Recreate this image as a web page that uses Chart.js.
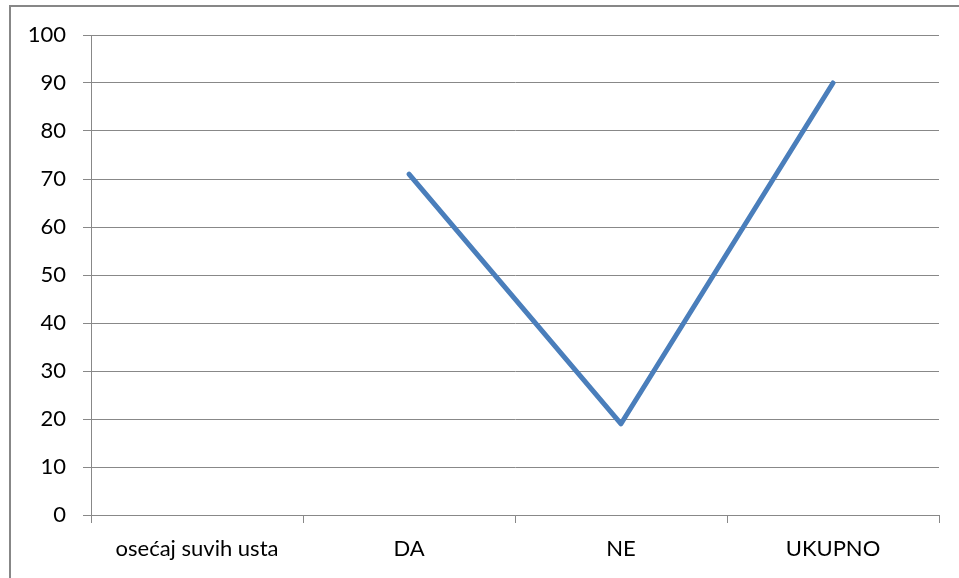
<!DOCTYPE html>
<html><head><meta charset="utf-8">
<script src="https://cdn.jsdelivr.net/npm/chart.js@4/dist/chart.umd.min.js"></script>
<style>
html,body{margin:0;padding:0;background:#fff;}
#wrap{position:relative;width:959px;height:578px;}
#frame{position:absolute;left:9px;top:5px;width:1000px;height:1000px;border:2px solid #878787;box-sizing:border-box;pointer-events:none;}
canvas{position:absolute;left:0;top:0;}
</style></head>
<body>
<div id="wrap"><canvas id="c" width="959" height="578"></canvas><div id="frame"></div></div>
<script>
const categories = ['osećaj suvih usta', 'DA', 'NE', 'UKUPNO'];
const values = [null, 71, 19, 90];
const yTicks = [0, 10, 20, 30, 40, 50, 60, 70, 80, 90, 100];

const gridColor = '#888888';
const font = {family: 'Lato, "Open Sans", sans-serif', size: 22};

new Chart(document.getElementById('c'), {
  type: 'line',
  data: {
    labels: categories,
    datasets: [{
      data: values,
      borderColor: '#4a7ebb',
      borderWidth: 5,
      borderCapStyle: 'round',
      borderJoinStyle: 'round',
      pointRadius: 0,
      tension: 0,
      spanGaps: false
    }]
  },
  options: {
    responsive: false,
    animation: false,
    devicePixelRatio: 1,
    layout: {padding: {left: 0, right: 20, top: 35, bottom: 0}},
    plugins: {legend: {display: false}, tooltip: {enabled: false}},
    scales: {
      x: {
        type: 'category',
        offset: true,
        grid: {display: true, drawOnChartArea: false, drawTicks: true, tickLength: 8, color: gridColor, lineWidth: 1, offset: true},
        border: {display: true, color: gridColor, width: 1},
        ticks: {color: '#000', font: font, padding: 13, maxRotation: 0, autoSkip: false},
        afterFit: s => { s.height = 63; }
      },
      y: {
        min: 0, max: 100,
        afterBuildTicks: s => { s.ticks = yTicks.map(v => ({value: v})); },
        grid: {color: gridColor, lineWidth: 1, drawTicks: true, tickLength: 8},
        border: {display: true, color: gridColor, width: 1},
        ticks: {color: '#000', font: font, padding: 17},
        afterFit: s => { s.width = 91; }
      }
    }
  }
});
</script>
</body></html>
